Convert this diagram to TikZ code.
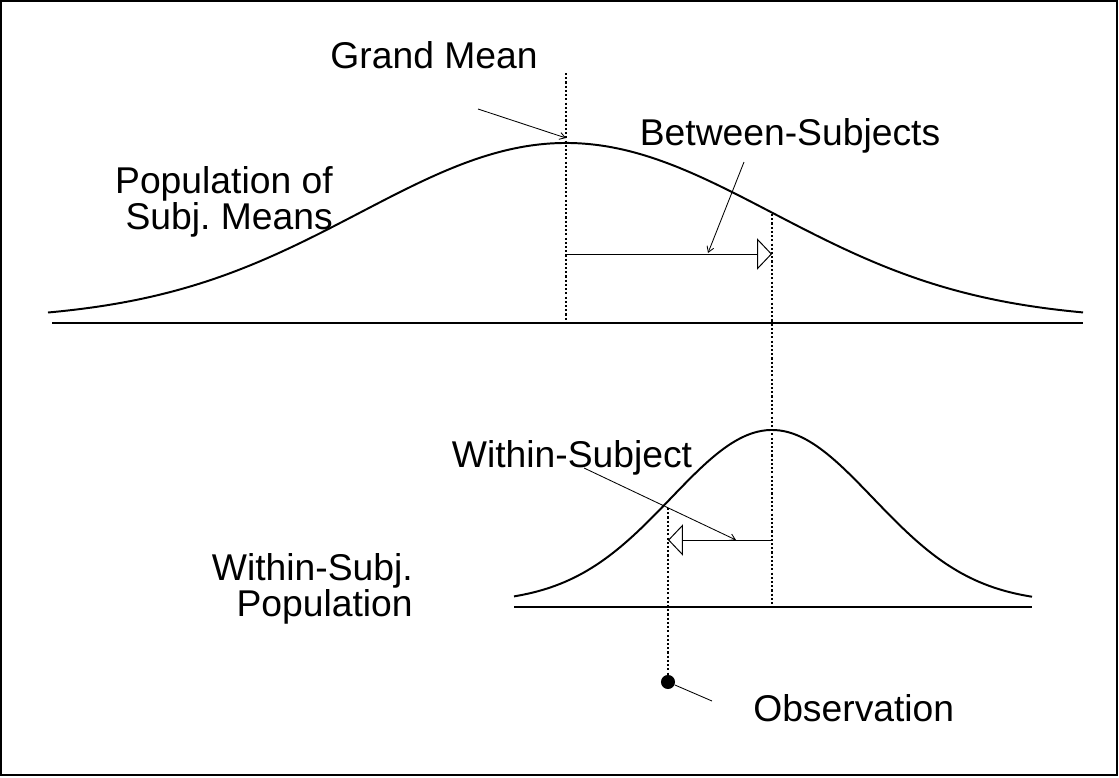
\documentclass[tikz,border=0pt]{standalone}
\usepackage{fontspec}
\setmainfont{Liberation Sans}
\usepackage{tikz}
\usetikzlibrary{arrows.meta,positioning}
\frenchspacing
\tikzset{
  curve/.style={line width=1.4pt},
  baseln/.style={line width=1.3pt},
  guide/.style={line width=1.1pt, dash pattern=on 1.5pt off 1.5pt},
  pointer/.style={line width=0.6pt, -{Straight Barb[length=4pt,width=5pt]}},
  sdarrow/.style={line width=0.7pt, -{Triangle[open,length=10.5pt,width=22pt,line width=0.7pt]}},
  lbl/.style={font=\fontsize{26.5}{18.5}\selectfont, inner sep=0pt}
}
\begin{document}
\begin{tikzpicture}[x=0.025cm, y=-0.025cm]
  \useasboundingbox (0,0) rectangle (1119,777);
  \draw[line width=0.8pt] (1,1) rectangle (1117,775);
  % upper population
  \draw[curve] plot[domain=48:1083, samples=160, smooth]
    (\x, {320-177*exp(-((\x-566)/206)^2/2)});
  \coordinate (upL) at (52,323);
  \coordinate (upR) at (1083,323);
  \draw[baseln] (upL) -- (upR);
  % lower population
  \draw[curve] plot[domain=514:1032, samples=120, smooth]
    (\x, {603-173*exp(-((\x-772)/101)^2/2)});
  \coordinate (loL) at (514,607);
  \coordinate (loR) at (1032,607);
  \draw[baseln] (loL) -- (loR);
  % guides
  \coordinate (gmTop) at (566,73);
  \coordinate (gmBot) at (566,323);
  \coordinate (sTop) at (772,214);
  \coordinate (sBot) at (772,607);
  \coordinate (obsTop) at (668,508);
  \node[circle, fill=black, inner sep=0pt, minimum size=10pt] (obs) at (668,682) {};
  \draw[guide] (gmTop) -- (gmBot);
  \draw[guide] (sTop) -- (sBot);
  \draw[guide] (obsTop) -- (obs.center);
  % deviations
  \coordinate (bsStart) at (566,254);
  \coordinate (bsEnd) at (772,254);
  \draw[sdarrow] (bsStart) -- (bsEnd);
  \coordinate (wsStart) at (772,540);
  \coordinate (wsEnd) at (668,540);
  \draw[sdarrow] (wsStart) -- (wsEnd);
  % labels
  \node[lbl] (grand) at (434,55) {Grand Mean};
  \node[lbl] (between) at (790,136) {Between-Subjects};
  \node[lbl, align=right, anchor=east] (popmeans) at (333,202)
    {Population of\\Subj. Means};
  \node[lbl] (within) at (572,458) {Within-Subject};
  \node[lbl, align=right, anchor=east] (withinpop) at (413,589)
    {Within-Subj.\\Population};
  \node[lbl, anchor=west] (obslbl) at (753,708) {Observation};
  % pointers
  \coordinate (gmPt) at (566,138);
  \coordinate (bsPt) at (708,253);
  \coordinate (wsPt) at (736,540);
  \draw[pointer] (478,109) -- (gmPt);
  \draw[pointer] (744,162) -- (bsPt);
  \draw[pointer] (584,468) -- (wsPt);
  \draw[line width=0.6pt] (obs) -- (712,701);
\end{tikzpicture}
\end{document}
